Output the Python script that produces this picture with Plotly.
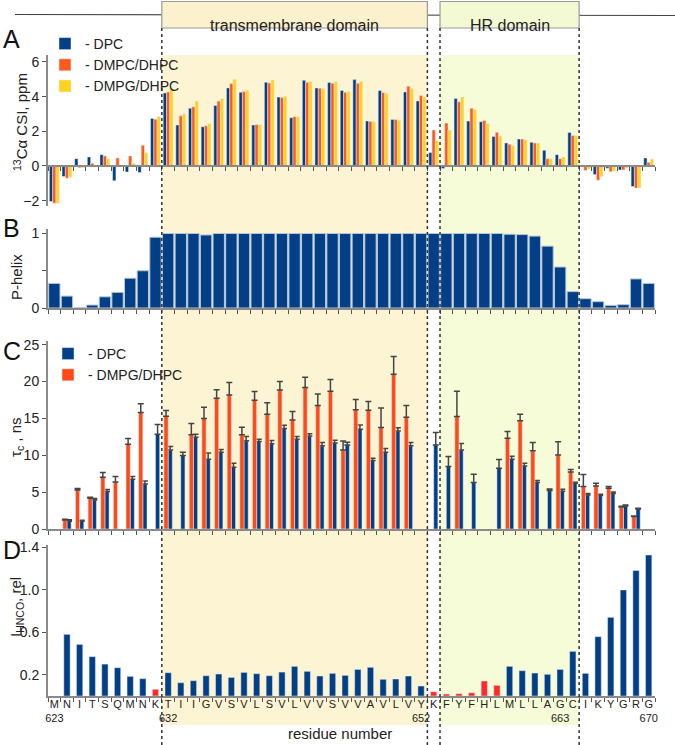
import plotly.graph_objects as go

# ---------------- data ----------------
residues = list(range(623, 671))
residue_letters = ["M", "N", "I", "T", "S", "Q", "M", "N", "K",
                   "T", "I", "I", "G", "V", "S", "V", "L", "S", "V", "L", "V",
                   "V", "S", "V", "V", "A", "V", "L", "V", "Y",
                   "K",
                   "F", "Y", "F", "H", "L", "M", "L", "L", "A", "G", "C",
                   "I", "K", "Y", "G", "R", "G"]
numbered_residues = [623, 632, 652, 663, 670]

tm_domain = (632, 652)
hr_domain = (654, 664)

# Panel A: 13C-alpha chemical shift index, ppm
csi_dpc = [-2.05, -0.61, 0.42, 0.52, 0.65, -0.86, -0.35, -0.38, 2.74,
           4.21, 2.36, 3.33, 2.26, 3.49, 4.50, 4.25, 2.36, 4.83, 3.97, 2.78, 4.94,
           4.50, 4.81, 4.35, 4.98, 2.59, 4.35, 2.68, 4.27, 3.75,
           0.77,
           -0.15, 3.89, 2.59, 2.55, 1.70, 1.32, 1.55, 1.36, 0.90, 0.65, 1.93,
           -0.02, -0.50, -0.13, -0.23, -1.19, 0.46]
csi_dmpc = [-2.15, -0.71, -0.10, 0.15, 0.57, 0.46, 0.58, 1.19, 2.70,
            4.27, 2.89, 3.41, 2.32, 3.74, 4.75, 4.29, 2.39, 4.79, 3.95, 2.84, 4.83,
            4.48, 4.77, 4.25, 4.77, 2.57, 4.23, 2.68, 4.60, 4.06,
            2.07,
            2.47, 3.70, 3.33, 2.62, 1.95, 1.25, 1.55, 1.32, 0.42, 0.42, 1.76,
            -0.27, -0.82, -0.34, -0.23, -1.28, 0.21]
csi_dmpg = [-2.15, -0.65, -0.10, 0.03, 0.42, None, 0.15, 0.78, 2.85,
            4.41, 3.00, 3.74, 2.43, 3.89, 5.00, 4.37, 2.39, 4.96, 4.02, 2.84, 4.87,
            4.46, 4.85, 4.29, 4.89, 2.57, 4.20, 2.64, 4.48, 3.98,
            1.46,
            2.07, 3.97, 3.26, 2.45, 1.72, 1.17, 1.51, 1.32, 0.42, 0.52, 1.76,
            -0.17, -0.63, -0.31, -0.13, -1.28, 0.40]

# Panel B: helix probability
p_helix = [0.33, 0.16, 0.005, 0.04, 0.15, 0.21, 0.40, 0.50, 0.95,
           1.00, 1.00, 1.00, 0.98, 1.00, 1.00, 1.00, 1.00, 1.00, 1.00, 1.00, 1.00,
           1.00, 1.00, 1.00, 1.00, 1.00, 1.00, 1.00, 1.00, 1.00,
           1.00,
           1.00, 1.00, 1.00, 1.00, 1.00, 0.99, 0.985, 0.965, 0.83, 0.55, 0.22,
           0.125, 0.085, 0.035, 0.045, 0.39, 0.33]

# Panel C: rotational correlation time, ns
tau_dpc = [None, 1.04, 1.04, 3.94, 5.07, None, 6.75, 6.11, 12.86,
           10.70, 9.96, 12.45, 9.47, 10.40, 8.38, 11.96, 11.87, 11.55, 13.63, 12.18, 12.60,
           11.28, 11.68, 11.41, 13.54, 9.28, 10.42, 13.30, 11.28, None,
           11.41,
           8.47, 10.73, 6.30, None, 8.24, 9.47, 8.56, 6.30, 5.21, 5.12, 6.20,
           4.62, 4.53, 4.80, 3.12, 2.72, -0.40]
tau_dpc_err = [0, 0.20, 0.15, 0.20, 0.30, 0, 0.36, 0.40, 1.31,
               0.50, 0.45, 0.40, 0.85, 0.40, 0.55, 0.60, 0.30, 0.45, 0.45, 0.37, 0.32,
               0.45, 0.37, 0.37, 0.55, 0.32, 0.50, 0.45, 0.45, 0,
               1.67,
               1.36, 0.86, 1.13, 0, 1.18, 0.40, 0.36, 0.27, 0.23, 0.27, 0.14,
               0.18, 0.18, 0.23, 0.14, 0.09, 0.10]
tau_dmpg = [None, 1.22, 5.30, 4.17, 7.02, 6.39, 11.50, 15.80, None,
            15.30, None, 12.77, 15.00, 17.75, 18.16, 12.80, 17.48, 15.58, 18.84, 14.80, 19.20,
            16.76, 18.70, 10.73, 16.17, 16.12, 13.77, 21.00, 15.17, None,
            None,
            None, 15.26, None, None, None, 12.32, 14.67, 10.60, None, 10.05, 7.74,
            5.75, 5.84, 5.53, 2.99, 1.68, None]
tau_dmpg_err = [0, 0.10, 0.20, 0.15, 0.63, 0.72, 0.77, 1.18, 0,
                0.77, 0, 1.54, 1.50, 1.13, 1.72, 1.00, 1.18, 1.54, 1.18, 1.13, 1.40,
                1.54, 1.58, 1.22, 1.40, 1.18, 2.63, 2.40, 1.58, 0,
                0,
                0, 3.44, 0, 0, 0, 0.90, 0.90, 1.13, 0, 1.77, 0.32,
                1.63, 0.36, 0.23, 0.09, 0.09, 0]

# Panel D: relative HNCO intensity
ihnco = [None, 0.58, 0.485, 0.37, 0.30, 0.266, 0.185, 0.163, 0.063,
         0.219, 0.125, 0.144, 0.191, 0.207, 0.175, 0.222, 0.21, 0.191, 0.225, 0.279, 0.232,
         0.188, 0.213, 0.194, 0.25, 0.27, 0.157, 0.16, 0.188, 0.094,
         0.04,
         0.019, 0.022, 0.031, 0.141, 0.10, 0.279, 0.238, 0.216, 0.204, 0.25, 0.42,
         0.213, 0.558, 0.74, 0.997, 1.18, 1.326]
ihnco_highlight = [631, 653, 654, 655, 656, 657, 658]

# ---------------- styling ----------------
W, H = 675, 745
ML, MR = 48, 20
FONT = "Liberation Sans, Arial, sans-serif"
BLUE = "#033f86"
ORANGE_A = "#ff5a1e"
YELLOW = "#ffd21c"
ORANGE_C = "#ff4a18"
RED = "#ff2a2a"
TM_FILL = "#fdf4d4"
HR_FILL = "#f6fcd8"


def px_x(px):
    return (px - ML) / (W - ML - MR)


def px_y(py):
    return (H - py) / H


boundaries = [r - 0.5 for r in residues] + [residues[-1] + 0.5]
xrange_ = [residues[0] - 0.5, residues[-1] + 0.5]

fig = go.Figure()

# Panel A
fig.add_trace(go.Bar(x=residues, y=csi_dpc, xaxis="x", yaxis="y", marker_color=BLUE,
                     width=0.26, offset=-0.39, name="- DPC", legend="legend",
                     legendgroup="a1"))
fig.add_trace(go.Bar(x=residues, y=csi_dmpc, xaxis="x", yaxis="y", marker_color=ORANGE_A,
                     width=0.26, offset=-0.13, name="- DMPC/DHPC", legend="legend",
                     legendgroup="a2"))
fig.add_trace(go.Bar(x=residues, y=csi_dmpg, xaxis="x", yaxis="y", marker_color=YELLOW,
                     width=0.26, offset=0.13, name="- DMPG/DHPC", legend="legend",
                     legendgroup="a3"))

# Panel B
fig.add_trace(go.Bar(x=residues, y=p_helix, xaxis="x2", yaxis="y2", marker_color=BLUE,
                     marker_line=dict(color="#b9c7d8", width=1), width=0.9,
                     showlegend=False))

# Panel C
fig.add_trace(go.Bar(x=residues, y=tau_dpc, xaxis="x3", yaxis="y3", marker_color=BLUE,
                     width=0.33, offset=0.0, name="- DPC", legend="legend2",
                     cliponaxis=False,
                     error_y=dict(type="data", symmetric=False, array=tau_dpc_err,
                                  arrayminus=[0] * len(tau_dpc_err), color="#444444",
                                  thickness=1.5, width=3)))
fig.add_trace(go.Bar(x=residues, y=tau_dmpg, xaxis="x3", yaxis="y3", marker_color=ORANGE_C,
                     width=0.33, offset=-0.33, name="- DMPG/DHPC", legend="legend2",
                     cliponaxis=False,
                     error_y=dict(type="data", symmetric=False, array=tau_dmpg_err,
                                  arrayminus=[0] * len(tau_dmpg_err), color="#444444",
                                  thickness=1.5, width=3)))

# Panel D
d_colors = [RED if r in ihnco_highlight else BLUE for r in residues]
fig.add_trace(go.Bar(x=residues, y=ihnco, xaxis="x4", yaxis="y4", marker_color=d_colors,
                     width=0.5, showlegend=False))
# invisible carrier for the residue label axis
fig.add_trace(go.Scatter(x=residues, y=ihnco, xaxis="x5", yaxis="y4", mode="markers",
                         marker=dict(opacity=0), showlegend=False, hoverinfo="skip"))

axis_line = dict(showline=True, linecolor="#8a8a8a", linewidth=2, ticks="outside",
                 tickcolor="#555555", tickwidth=1.3, ticklen=4, showgrid=False,
                 zeroline=False, automargin=False,
                 tickfont=dict(size=14, color="#222222", family=FONT))
xcommon = dict(axis_line, range=xrange_, tickmode="array", tickvals=boundaries,
               showticklabels=False)

ticktext = [l + ("<br>" + str(r) if r in numbered_residues else "")
            for l, r in zip(residue_letters, residues)]

fig.update_layout(
    width=W, height=H,
    margin=dict(l=ML, r=MR, t=0, b=0),
    paper_bgcolor="white", plot_bgcolor="rgba(0,0,0,0)",
    font=dict(family=FONT, color="#222222"),
    barmode="overlay",
    xaxis=dict(xcommon, anchor="free", position=px_y(166)),
    xaxis2=dict(xcommon, anchor="y2"),
    xaxis3=dict(xcommon, anchor="y3"),
    xaxis4=dict(xcommon, anchor="y4"),
    xaxis5=dict(range=xrange_, overlaying="x4", anchor="y4", side="bottom",
                tickmode="array", tickvals=residues, ticktext=ticktext,
                ticks="", showline=False, showgrid=False, zeroline=False,
                tickangle=0, automargin=False,
                tickfont=dict(size=11, color="#222222", family=FONT)),
    yaxis=dict(axis_line, domain=[px_y(205.8), px_y(55)], range=[-2.3, 6.4],
               tickmode="array", tickvals=[-2, 0, 2, 4, 6], anchor="x"),
    yaxis2=dict(axis_line, domain=[px_y(308), px_y(229)], range=[0, 1.06],
                tickmode="array", tickvals=[0, 0.5, 1], ticktext=["0", "", "1"],
                anchor="x2"),
    yaxis3=dict(axis_line, domain=[px_y(529), px_y(341)], range=[0, 25.5],
                tickmode="array", tickvals=[0, 5, 10, 15, 20, 25], anchor="x3"),
    yaxis4=dict(axis_line, domain=[px_y(696), px_y(545)], range=[0, 1.42],
                tickmode="array", tickvals=[0.2, 0.6, 1.0, 1.4],
                ticktext=["0.2", "0.6", "1.0", "1.4"], anchor="x4"),
    legend=dict(x=px_x(45), y=px_y(28), xanchor="left", yanchor="top",
                bgcolor="rgba(0,0,0,0)", font=dict(size=14, color="#222222"),
                tracegroupgap=2, itemwidth=30, traceorder="normal"),
    legend2=dict(x=px_x(48), y=px_y(338), xanchor="left", yanchor="top",
                 bgcolor="rgba(0,0,0,0)", font=dict(size=14, color="#222222"),
                 itemwidth=30, traceorder="normal"),
    showlegend=True,
)

shapes = []
# domain shading
shapes.append(dict(type="rect", xref="x4", yref="paper", x0=tm_domain[0] - 0.5,
                   x1=tm_domain[1] + 0.5, y0=px_y(725), y1=px_y(55),
                   fillcolor=TM_FILL, line=dict(width=0), layer="below"))
shapes.append(dict(type="rect", xref="x4", yref="paper", x0=hr_domain[0] - 0.5,
                   x1=hr_domain[1] + 0.5, y0=px_y(725), y1=px_y(55),
                   fillcolor=HR_FILL, line=dict(width=0), layer="below"))
# top sequence line and domain boxes
shapes.append(dict(type="line", xref="paper", yref="paper", x0=px_x(15), x1=px_x(675),
                   y0=px_y(14.5), y1=px_y(15.5), line=dict(color="#444444", width=1.2),
                   layer="below"))
shapes.append(dict(type="rect", xref="x4", yref="paper", x0=tm_domain[0] - 0.5,
                   x1=tm_domain[1] + 0.5, y0=px_y(28), y1=px_y(1.5),
                   fillcolor="#fcf1cd", line=dict(color="#9a9a9a", width=1.2),
                   layer="below"))
shapes.append(dict(type="rect", xref="x4", yref="paper", x0=hr_domain[0] - 0.5,
                   x1=hr_domain[1] + 0.5, y0=px_y(28), y1=px_y(1.5),
                   fillcolor="#f3fad3", line=dict(color="#9a9a9a", width=1.2),
                   layer="below"))
# dashed domain borders
for xb in [tm_domain[0] - 0.5, tm_domain[1] + 0.5, hr_domain[0] - 0.5, hr_domain[1] + 0.5]:
    shapes.append(dict(type="line", xref="x4", yref="paper", x0=xb, x1=xb,
                       y0=0, y1=px_y(28), line=dict(color="#333333", width=1.5,
                                                    dash="3px,3px"),
                       layer="above"))
fig.update_layout(shapes=shapes)

ann = []
ann.append(dict(text="transmembrane domain", xref="x4", yref="paper",
                x=(tm_domain[0] + tm_domain[1]) / 2, y=px_y(15), showarrow=False,
                font=dict(size=16, color="#222222")))
ann.append(dict(text="HR domain", xref="x4", yref="paper",
                x=(hr_domain[0] + hr_domain[1]) / 2, y=px_y(15), showarrow=False,
                font=dict(size=16, color="#222222")))
for lab, py in [("A", 39), ("B", 228), ("C", 351.5), ("D", 549.5)]:
    ann.append(dict(text=lab, xref="paper", yref="paper", x=px_x(1), y=px_y(py),
                    xanchor="left", yanchor="middle", showarrow=False,
                    font=dict(size=25, color="#111111")))
for txt, pxx, pyy in [("<sup>13</sup>Cα CSI, ppm", 20, 122),
                      ("P-helix", 16, 277),
                      ("τ<sub>c</sub> , ns", 16, 437),
                      ("I<sub>HNCO</sub>, rel", 16, 607)]:
    ann.append(dict(text=txt, xref="paper", yref="paper", x=px_x(pxx), y=px_y(pyy),
                    xanchor="center", yanchor="middle", textangle=-90,
                    showarrow=False, font=dict(size=15, color="#222222")))
ann.append(dict(text="residue number", xref="paper", yref="paper", x=px_x(340),
                y=px_y(744), xanchor="center", yanchor="bottom", showarrow=False,
                font=dict(size=15, color="#222222")))
fig.update_layout(annotations=ann)

fig.write_html("out.html", config={"displayModeBar": False},
               post_script="document.body.style.margin='0px';"
                           "document.body.style.overflow='hidden';")
